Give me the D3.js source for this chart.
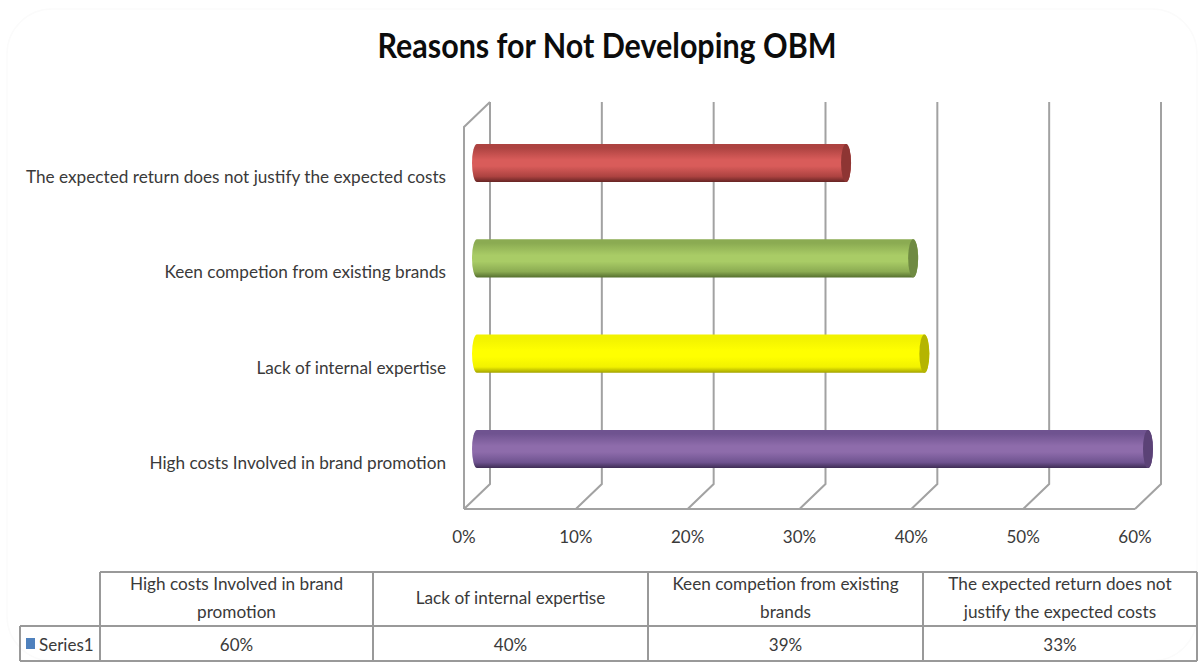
<!DOCTYPE html>
<html><head><meta charset="utf-8">
<script src="https://cdn.jsdelivr.net/npm/d3@7/dist/d3.min.js"></script>
<style>
html,body{margin:0;padding:0;background:#fff}
svg{display:block}
text{font-family:Lato,"Open Sans",sans-serif;fill:#3a3a3a}
</style></head><body>
<svg id="chart" width="1201" height="664"></svg>
<script>
// Chart content
const title = "Reasons for Not Developing OBM";
const categories = ["High costs Involved in brand promotion","Lack of internal expertise","Keen competion from existing brands","The expected return does not justify the expected costs"];
const tableHeaderLines = [["High costs Involved in brand","promotion"],["Lack of internal expertise"],["Keen competion from existing","brands"],["The expected return does not","justify the expected costs"]];
const values = [60,40,39,33];
const tickValues = [0,10,20,30,40,50,60];
const seriesName = "Series1";
const barColors = [
  {dark:"#3f2d55",mid:"#8e6cab",edge:"#6f5390",cap:"#5b4276"},
  {dark:"#a3a300",mid:"#ffff00",edge:"#f2f200",cap:"#b5b500"},
  {dark:"#56702f",mid:"#a9cc66",edge:"#8bab52",cap:"#6f8a42"},
  {dark:"#652423",mid:"#d95c5a",edge:"#ad4341",cap:"#8e3533"}
];

const svg = d3.select("#chart");
const defs = svg.append("defs");

// Faint rounded outline of the chart area
svg.append("rect").attr("x",7).attr("y",9).attr("width",1190).attr("height",652).attr("rx",45)
  .attr("fill","none").attr("stroke","#fbfbfb").attr("stroke-width",1.5);

// Three depth planes of the 3D plot share one horizontal scale, each offset
const depth = 26, rise = 25;
const xFront = d3.scaleLinear().domain([0,60]).range([464,1135]);
const xMid = v => xFront(v) + depth/2;
const xBack = v => xFront(v) + depth;
const yTop = 127, yBottom = 509;
const y = d3.scaleBand().domain(d3.range(4)).range([496.6,115.4]).paddingInner(0.6).paddingOuter(0.3);

// Walls and gridlines
const wall = svg.append("g").attr("fill","none").attr("stroke","#a2a2a2").attr("stroke-width",2);
wall.selectAll(".grid").data(tickValues).join("path").attr("class","grid")
  .attr("d",t=>`M${xBack(t)},${yTop-rise}V${yBottom-rise}L${xFront(t)},${yBottom}`);
wall.append("path").attr("d",`M${xFront(0)},${yBottom}V${yTop}L${xBack(0)},${yTop-rise}`);
wall.append("path").attr("d",`M${xFront(0)},${yBottom}H${xFront(60)}`);

// Cylinder bars
const barH = y.bandwidth();
const bars = svg.append("g").selectAll("g").data(values).join("g");
bars.each(function(v,i){
  const c = barColors[i];
  const gid = "cyl"+i;
  const g = defs.append("linearGradient").attr("id",gid).attr("x1",0).attr("x2",0).attr("y1",0).attr("y2",1);
  [[0,c.edge],[0.1,c.edge],[0.42,c.mid],[0.58,c.mid],[0.85,c.edge],[1,c.dark]].forEach(s=>g.append("stop").attr("offset",s[0]).attr("stop-color",s[1]));
  const yc = y(i)+barH/2, rx=5, ry=barH/2;
  const x0 = xMid(0), x1 = xMid(v);
  const n = d3.select(this);
  n.append("path").attr("fill",`url(#${gid})`)
    .attr("d",`M${x0},${yc-ry}H${x1}A${rx},${ry} 0 0 1 ${x1},${yc+ry}H${x0}A${rx},${ry} 0 0 1 ${x0},${yc-ry}Z`);
  n.append("ellipse").attr("cx",x1).attr("cy",yc).attr("rx",rx).attr("ry",ry).attr("fill",c.cap);
});

// Category labels sit slightly below their bars, as the 3D projection places them
svg.append("g").selectAll("text").data(categories).join("text")
  .attr("x",446).attr("y",(d,i)=>y(i)+barH/2+20)
  .attr("text-anchor","end").attr("font-size",17.2).text(d=>d);

// Axis tick labels
svg.append("g").selectAll("text").data(tickValues).join("text")
  .attr("x",t=>xFront(t)).attr("y",543).attr("text-anchor","middle").attr("font-size",17)
  .text(t=>t+"%");

// Title
svg.append("text").attr("x",607).attr("y",58).attr("text-anchor","middle")
  .attr("font-size",35).attr("font-weight",700)
  .attr("textLength",459).attr("lengthAdjust","spacingAndGlyphs")
  .style("fill","#0c0c0c").text(title);

// Data table below the plot
const colX = [100,373,648,923,1197];
const rowY = [572,626,661];
const tbl = svg.append("g").attr("fill","none").attr("stroke","#999").attr("stroke-width",2);
colX.forEach(x=>tbl.append("line").attr("x1",x).attr("x2",x).attr("y1",rowY[0]).attr("y2",rowY[2]));
tbl.append("line").attr("x1",colX[0]).attr("x2",colX[4]).attr("y1",rowY[0]).attr("y2",rowY[0]);
tbl.append("line").attr("x1",20).attr("x2",colX[4]).attr("y1",rowY[1]).attr("y2",rowY[1]);
tbl.append("line").attr("x1",20).attr("x2",colX[4]).attr("y1",rowY[2]).attr("y2",rowY[2]);
tbl.append("line").attr("x1",20).attr("x2",20).attr("y1",rowY[1]).attr("y2",rowY[2]);

tableHeaderLines.forEach((lines,i)=>{
  const cx=(colX[i]+colX[i+1])/2;
  const y0 = lines.length===2 ? 590 : 604;
  lines.forEach((l,j)=>svg.append("text").attr("x",cx).attr("y",y0+j*28).attr("text-anchor","middle").attr("font-size",17.2).text(l));
  svg.append("text").attr("x",cx).attr("y",651).attr("text-anchor","middle").attr("font-size",17).text(values[i]+"%");
});
svg.append("rect").attr("x",26).attr("y",638).attr("width",9).attr("height",11).attr("fill","#4f81bd");
svg.append("text").attr("x",39).attr("y",651).attr("font-size",17).text(seriesName);
</script>
</body></html>
